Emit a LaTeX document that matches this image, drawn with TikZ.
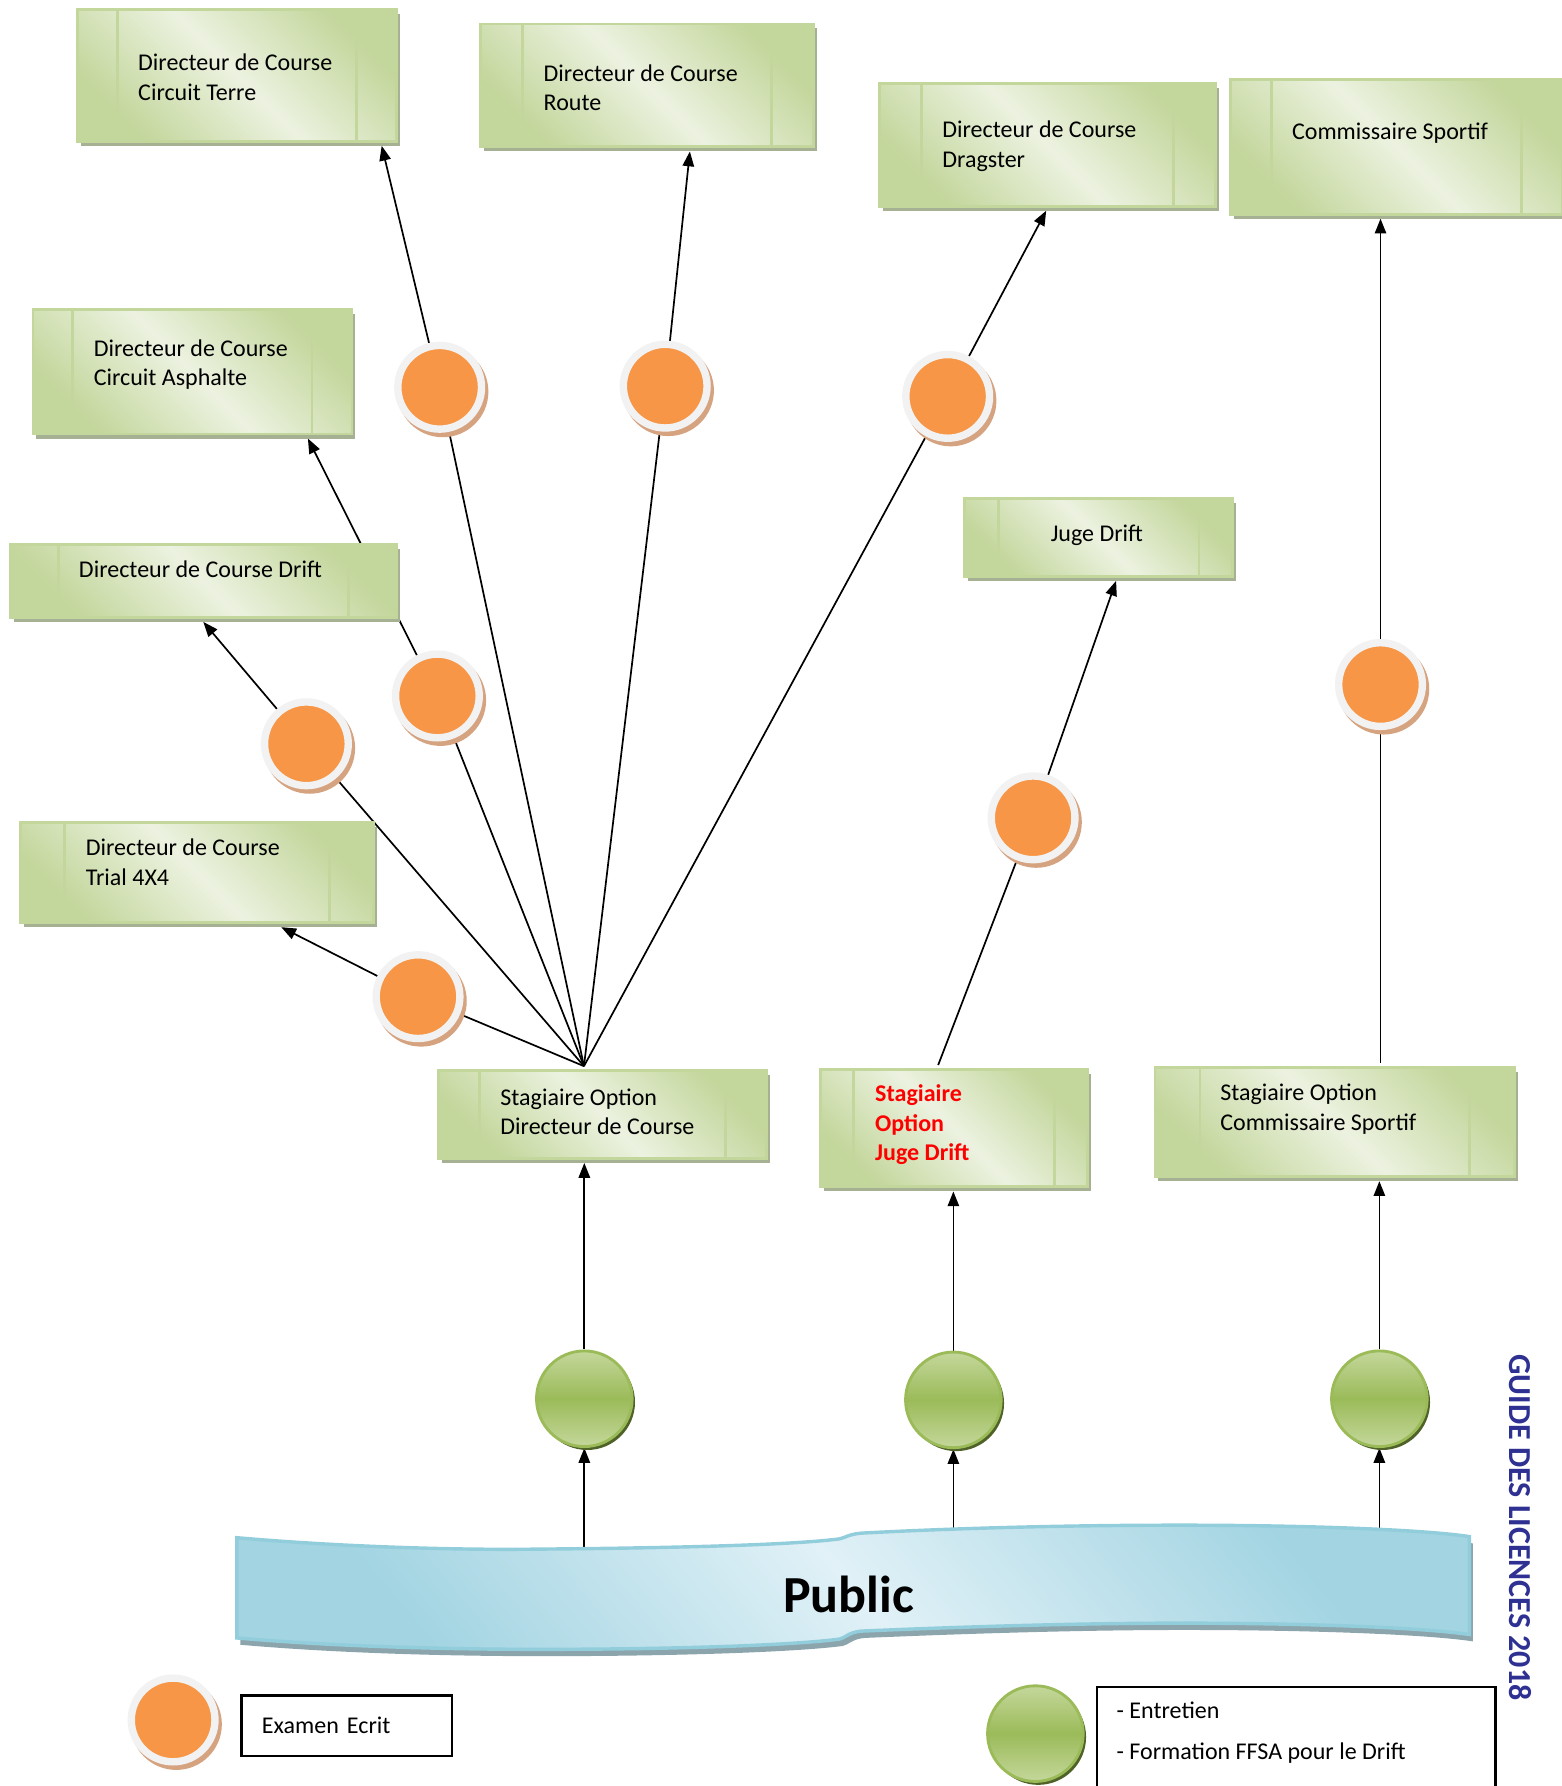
\documentclass[tikz,border=0pt]{standalone}
\usepackage{fontspec}
\setmainfont{Carlito}
\usetikzlibrary{arrows.meta,calc,shadows,backgrounds}
\definecolor{vertclair}{RGB}{236,242,224}
\definecolor{vertfonce}{RGB}{195,214,155}
\definecolor{vertombre}{RGB}{166,176,146}
\definecolor{orangeexam}{RGB}{247,150,70}
\definecolor{anneau}{RGB}{242,242,242}
\definecolor{ombreorange}{RGB}{214,163,128}
\definecolor{vertboule}{RGB}{155,187,89}
\definecolor{vertboulec}{RGB}{196,215,155}
\definecolor{ombreboule}{RGB}{79,98,40}
\definecolor{bleuclair}{RGB}{225,241,247}
\definecolor{bleufonce}{RGB}{162,212,226}
\definecolor{bleubord}{RGB}{146,205,220}
\definecolor{ombrebleu}{RGB}{140,165,172}
\definecolor{guide}{RGB}{46,49,146}
\newcommand{\banniere}{(208,1350) .. controls (300,1358) and (400,1361) .. (474,1360) .. controls (600,1359) and (700,1356) .. (737,1351) .. controls (742,1350) and (745,1347) .. (756,1346) .. controls (850,1341) and (950,1339) .. (1036,1339) .. controls (1150,1339) and (1250,1343) .. (1290,1349) -- (1290,1435) .. controls (1250,1429) and (1150,1425) .. (1036,1425) .. controls (950,1425) and (850,1428) .. (756,1432) .. controls (745,1433) and (742,1438) .. (737,1439) .. controls (700,1444) and (600,1448) .. (474,1448) .. controls (400,1448) and (300,1446) .. (208,1438) -- cycle}

\begin{document}
\begin{tikzpicture}[x=0.02cm,y=-0.02cm]
\tikzstyle{boite}=[rectangle, inner sep=0pt, draw=vertfonce, line width=0.05cm, top color=vertfonce, bottom color=vertfonce, middle color=vertclair, shading angle=-45, outer xsep=0pt, outer ysep=0.08cm, drop shadow={shadow xshift=0.06cm, shadow yshift=-0.08cm, fill=vertombre, opacity=1}, path picture={\draw[vertfonce, line width=0.05cm] ($(path picture bounding box.north west)!0.125!(path picture bounding box.north east)$) -- ($(path picture bounding box.south west)!0.125!(path picture bounding box.south east)$); \draw[vertfonce, line width=0.05cm] ($(path picture bounding box.north west)!0.875!(path picture bounding box.north east)$) -- ($(path picture bounding box.south west)!0.875!(path picture bounding box.south east)$);}]
\tikzstyle{txt}=[align=left, inner sep=0pt, anchor=west, font=\fontsize{12}{14.8}\selectfont]
\tikzstyle{examen}=[circle, minimum size=1.47cm, inner sep=0pt, fill=orangeexam, draw=anneau, line width=0.13cm, drop shadow={shadow xshift=0.05cm, shadow yshift=-0.07cm, shadow scale=1.09, fill=ombreorange, opacity=1}]
\tikzstyle{entretien}=[circle, minimum size=1.68cm, inner sep=0pt, draw=vertboule, line width=0.05cm, top color=vertboulec, bottom color=vertboulec, middle color=vertboule, drop shadow={shadow xshift=0.05cm, shadow yshift=-0.06cm, fill=ombreboule, opacity=1}]
\tikzstyle{trait}=[line width=0.85pt]
\tikzstyle{fleche}=[-{Triangle[length=0.26cm,width=0.2cm]}, line width=0.85pt]
\useasboundingbox (0,0) rectangle (1371,1568);

\node[boite, minimum width=5.6cm, minimum height=2.32cm] (terre) at (208,66) {};
\node[txt] (terre-t) at (121,68) {Directeur de Course\\Circuit Terre};
\node[boite, minimum width=5.84cm, minimum height=2.16cm] (route) at (568,75) {};
\node[txt] (route-t) at (477,77) {Directeur de Course\\Route};
\node[boite, minimum width=5.9cm, minimum height=2.16cm] (dragster) at (919.5,127) {};
\node[txt] (dragster-t) at (827,128.5) {Directeur de Course\\Dragster};
\node[boite, minimum width=5.84cm, minimum height=2.36cm] (commissaire) at (1226,129) {};
\node[txt] (commissaire-t) at (1134,117) {Commissaire Sportif};
\node[boite, minimum width=5.6cm, minimum height=2.18cm] (asphalte) at (169,326.5) {};
\node[txt] (asphalte-t) at (82,320) {Directeur de Course\\Circuit Asphalte};
\node[boite, minimum width=6.78cm, minimum height=1.28cm] (drift) at (178.5,510) {};
\node[txt] (drift-t) at (69,500) {Directeur de Course Drift};
\node[boite, minimum width=4.7cm, minimum height=1.36cm] (juge) at (964.5,472) {};
\node[txt, anchor=center] (juge-t) at (963,470) {Juge Drift};
\node[boite, minimum width=6.2cm, minimum height=1.76cm] (trial) at (173,766) {};
\node[txt] (trial-t) at (75,757) {Directeur de Course\\Trial 4X4};
\node[boite, minimum width=5.76cm, minimum height=1.54cm] (stag-dc) at (529,978.5) {};
\node[txt] (stag-dc-t) at (439,976) {Stagiaire Option\\Directeur de Course};
\node[boite, minimum width=4.7cm, minimum height=2.06cm] (stag-jd) at (837.5,990.5) {};
\node[txt, text=red, font=\bfseries\fontsize{12}{14.8}\selectfont] (stag-jd-t) at (768,987.5) {Stagiaire\\Option\\Juge Drift};
\node[boite, minimum width=6.32cm, minimum height=1.92cm] (stag-cs) at (1172,985) {};
\node[txt] (stag-cs-t) at (1071,974) {Stagiaire Option\\Commissaire Sportif};

\node[examen] (e-terre) at (386,340) {};
\node[examen] (e-route) at (584,339) {};
\node[examen] (e-dragster) at (832,348) {};
\node[examen] (e-asphalte) at (384,611) {};
\node[examen] (e-drift) at (269,653) {};
\node[examen] (e-trial) at (367,875) {};
\node[examen] (e-juge) at (907,718) {};
\node[examen] (e-commissaire) at (1212,601) {};

\node[entretien] (v-dc) at (513,1228) {};
\node[entretien] (v-jd) at (837,1229) {};
\node[entretien] (v-cs) at (1211,1228) {};

\fill[ombrebleu, shift={(3,6)}] \banniere;
\draw[bleubord, line width=0.06cm, top color=bleufonce, bottom color=bleufonce, middle color=bleuclair, shading angle=-50] \banniere;
\node[font=\bfseries\fontsize{26}{30}\selectfont] (public) at (745,1400) {Public};

\coordinate (fan) at (stag-dc.111);
\begin{scope}[on background layer]
\draw[trait] (fan) -- (e-trial);
\draw[trait] (fan) -- (e-drift);
\draw[trait] (fan) -- (e-asphalte);
\draw[trait] (fan) -- (e-terre);
\draw[trait] (fan) -- (e-route);
\draw[trait] (fan) -- (e-dragster);
\draw[fleche] (e-terre) -- (terre.-26.8);
\draw[fleche] (e-route) -- (route.-57.7);
\draw[fleche] (e-dragster) -- (dragster.-91);
\draw[fleche] (e-asphalte) -- (asphalte.-30.9);
\draw[fleche] (e-drift) -- (drift.south);
\draw[fleche] (e-trial) -- (trial.-33.5);
\draw[trait] (stag-jd.104.9) -- (e-juge);
\draw[fleche] (e-juge) -- (juge.-68.6);
\draw[trait] (e-commissaire |- stag-cs.north) -- (e-commissaire);
\draw[fleche] (e-commissaire) -- (e-commissaire |- commissaire.south);
\draw[fleche] (v-dc) -- (v-dc |- stag-dc.south);
\draw[fleche] (v-jd) -- (v-jd |- stag-jd.south);
\draw[fleche] (v-cs) -- (v-cs |- stag-cs.south);
\draw[fleche] (v-dc |- public) -- (v-dc);
\draw[fleche] (v-jd |- public) -- (v-jd);
\draw[fleche] (v-cs |- public) -- (v-cs);
\end{scope}

\node[examen] (e-legende) at (152,1510) {};
\node[draw, line width=0.04cm, minimum height=1.06cm, text width=2.98cm, inner xsep=0.36cm, inner ysep=0pt, align=left, font=\fontsize{12}{14.8}\selectfont] (legende-examen) at (304.5,1515) {Examen Ecrit\\[-0.12cm]};
\node[entretien] (v-legende) at (909,1522) {};
\node[draw, line width=0.04cm, minimum width=7cm, minimum height=2.4cm, anchor=north west] (legende-entretien) at (962,1480) {};
\node[txt] (legende-entretien-t) at (980,1521) {- Entretien\\[6pt]- Formation FFSA pour le Drift};

\node[rotate=-90, text=guide, font=\bfseries\fontsize{16}{19}\selectfont] (guide) at (1335,1341) {GUIDE DES LICENCES 2018};
\end{tikzpicture}
\end{document}
